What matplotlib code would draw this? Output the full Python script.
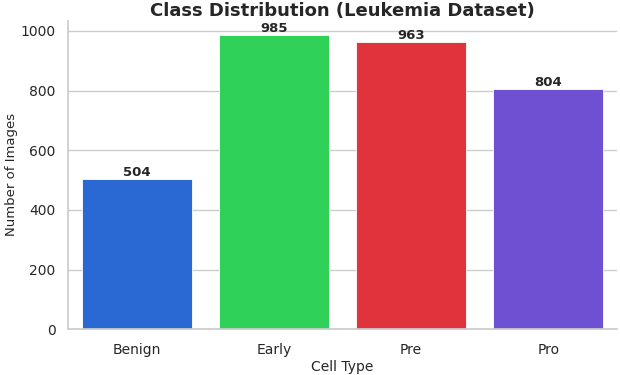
import matplotlib
matplotlib.use("Agg")
import matplotlib.pyplot as plt
import seaborn as sns

categories = ["Benign", "Early", "Pre", "Pro"]
counts = [504, 985, 963, 804]
colors = ["#2a69d4", "#30d158", "#e0343c", "#6e50d2"]

sns.set_theme(style="whitegrid")
plt.rcParams["font.family"] = ["DejaVu Sans"]

fig, ax = plt.subplots(figsize=(6.2, 3.75), dpi=100)
bars = ax.bar(categories, counts, color=colors, width=0.8, edgecolor="white", linewidth=0.6)
ax.set_xlim(-0.5, len(categories) - 0.5)
ax.grid(axis="x", visible=False)

for bar, value in zip(bars, counts):
    ax.text(bar.get_x() + bar.get_width() / 2, value, str(value),
            ha="center", va="bottom", fontsize=9.5, fontweight="bold", color="#262626")

ax.set_title("Class Distribution (Leukemia Dataset)", fontsize=13, fontweight="bold", pad=3)
ax.set_xlabel("Cell Type", fontsize=10, labelpad=2)
ax.set_ylabel("Number of Images", fontsize=9.5, labelpad=2)
ax.tick_params(axis="x", labelsize=10, pad=4)
ax.tick_params(axis="y", labelsize=10, pad=3)
sns.despine(ax=ax)

plt.subplots_adjust(left=0.11, right=0.995, top=0.945, bottom=0.122)
plt.savefig("out.png")
plt.close()
